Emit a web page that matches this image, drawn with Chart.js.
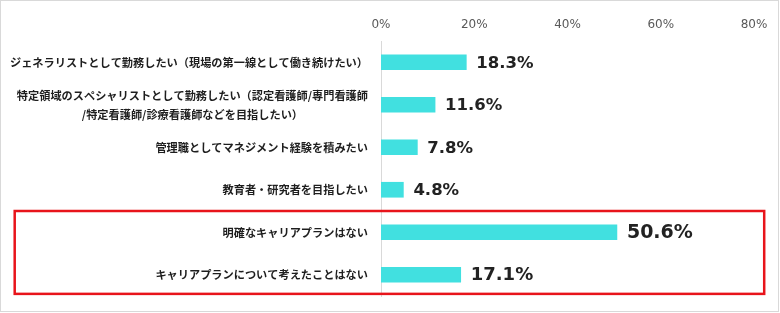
<!DOCTYPE html>
<html>
<head>
<meta charset="utf-8">
<script src="https://cdn.jsdelivr.net/npm/chart.js@4/dist/chart.umd.min.js"></script>
<style>
html,body{margin:0;padding:0;background:#fff;}
#wrap{position:relative;width:780px;height:313px;}
</style>
</head>
<body>
<div id="wrap"><canvas id="c" width="780" height="313"></canvas></div>
<script>
const categories = [
  'ジェネラリストとして勤務したい（現場の第一線として働き続けたい）',
  ['特定領域のスペシャリストとして勤務したい（認定看護師/専門看護師', '/特定看護師/診療看護師などを目指したい）'],
  '管理職としてマネジメント経験を積みたい',
  '教育者・研究者を目指したい',
  '明確なキャリアプランはない',
  'キャリアプランについて考えたことはない'
];
const values = [18.3, 11.6, 7.8, 4.8, 50.6, 17.1];
const valueLabels = ['18.3%', '11.6%', '7.8%', '4.8%', '50.6%', '17.1%'];
const xTickLabels = ['0%', '20%', '40%', '60%', '80%'];
const highlightedCategories = [4, 5];

const labelFontSize = [16.5, 16.5, 16.5, 16.5, 19, 18];
const catFont = 'bold 11.2px "Noto Sans CJK JP"';

const drawPlugin = {
  id: 'drawExtras',
  beforeDraw(chart) {
    const ctx = chart.ctx;
    ctx.save();
    ctx.fillStyle = '#fff';
    ctx.fillRect(0, 0, chart.width, chart.height);
    ctx.strokeStyle = '#d9d9d9';
    ctx.lineWidth = 1;
    ctx.strokeRect(0.5, 0.5, chart.width - 2, chart.height - 2);
    ctx.restore();
  },
  afterDraw(chart) {
    const ctx = chart.ctx;
    const yScale = chart.scales.y;
    const meta = chart.getDatasetMeta(0);
    ctx.save();
    ctx.font = catFont;
    ctx.fillStyle = '#1e1e1e';
    ctx.textBaseline = 'middle';
    const rightEdge = chart.chartArea.left - 13;
    categories.forEach((lab, i) => {
      const lines = Array.isArray(lab) ? lab : [lab];
      const yc = yScale.getPixelForValue(i);
      const widths = lines.map(l => ctx.measureText(l).width);
      const maxW = Math.max(...widths);
      const cx = rightEdge - maxW / 2;
      const lh = 19;
      lines.forEach((l, j) => {
        const y = yc + (j - (lines.length - 1) / 2) * lh;
        ctx.textAlign = 'center';
        ctx.fillText(l, cx, y);
      });
    });
    ctx.fillStyle = '#222';
    ctx.textAlign = 'left';
    meta.data.forEach((bar, i) => {
      ctx.font = 'bold ' + labelFontSize[i] + 'px "DejaVu Sans"';
      ctx.fillText(valueLabels[i], bar.x + 10, bar.y + 1);
    });
    const step = yScale.getPixelForValue(1) - yScale.getPixelForValue(0);
    const first = highlightedCategories[0];
    const last = highlightedCategories[highlightedCategories.length - 1];
    const top = yScale.getPixelForValue(first) - step / 2;
    const bottom = yScale.getPixelForValue(last) + step * 0.45;
    ctx.strokeStyle = '#e8141b';
    ctx.lineWidth = 2.5;
    ctx.strokeRect(14.7, top, 764.2 - 14.7, bottom - top);
    ctx.restore();
  }
};

new Chart(document.getElementById('c'), {
  type: 'bar',
  data: {
    labels: categories,
    datasets: [{
      data: values,
      backgroundColor: '#41e0e0',
      borderWidth: 0,
      barThickness: 15
    }]
  },
  options: {
    indexAxis: 'y',
    responsive: false,
    animation: false,
    events: [],
    layout: { padding: { top: 0, left: 0, right: 26, bottom: 17 } },
    plugins: { legend: { display: false }, tooltip: { enabled: false } },
    scales: {
      x: {
        position: 'top',
        min: 0,
        max: 80,
        grid: { display: false },
        border: { display: false },
        ticks: {
          stepSize: 20,
          padding: 1,
          color: '#595959',
          font: { family: '"DejaVu Sans"', size: 12 },
          callback: (v, i) => xTickLabels[i]
        },
        afterFit: s => { s.height = 41; }
      },
      y: {
        grid: { display: false },
        border: { display: true, color: '#d9d9d9', width: 1 },
        ticks: { display: false },
        afterFit: s => { s.width = 381; }
      }
    }
  },
  plugins: [drawPlugin]
});
</script>
</body>
</html>
